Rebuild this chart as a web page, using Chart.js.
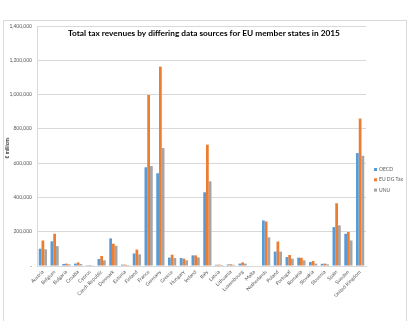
<!DOCTYPE html>
<html>
<head>
<meta charset="utf-8">
<script src="https://cdn.jsdelivr.net/npm/chart.js@4/dist/chart.umd.min.js"></script>
<style>
  html, body { margin: 0; padding: 0; background: #fff; }
  #wrap { width: 410px; height: 321px; position: relative; }
</style>
</head>
<body>
<div id="wrap"><canvas id="taxChart" width="410" height="321"></canvas></div>
<script>
const countries = ['Austria', 'Belgium', 'Bulgaria', 'Croatia', 'Cyprus', 'Czech Republic', 'Denmark', 'Estonia',
    'Finland', 'France', 'Germany', 'Greece', 'Hungary', 'Ireland', 'Italy', 'Latvia', 'Lithuania', 'Luxembourg',
    'Malta', 'Netherlands', 'Poland', 'Portugal', 'Romania', 'Slovakia', 'Slovenia', 'Spain', 'Sweden', 'United Kingdom'];

// € millions
const oecd = [101000, 144000, 12000, 14000, 5000, 41000, 161000, 8000,
    73000, 576000, 541000, 49000, 47000, 62000, 430000, 7000, 9000, 14000,
    3000, 266000, 84000, 52000, 49000, 23000, 13000, 227000, 188000, 659000];
const euDgTax = [149000, 188000, 14000, 21000, 6000, 58000, 130000, 8000,
    96000, 998000, 1163000, 66000, 43000, 62000, 708000, 8000, 10000, 21000,
    3000, 260000, 143000, 64000, 48000, 29000, 14000, 366000, 198000, 860000];
const unu = [97000, 116000, 10000, 12000, 4000, 33000, 118000, 6000,
    68000, 583000, 688000, 47000, 33000, 50000, 494000, 6000, 7000, 14000,
    3000, 167000, 84000, 43000, 33000, 14000, 10000, 237000, 149000, 643000];

const seriesNames = ['OECD', 'EU DG Tax', 'UNU'];
const seriesColors = ['#5B9BD5', '#ED7D31', '#A5A5A5'];
const yTicks = [0, 200000, 400000, 600000, 800000, 1000000, 1200000, 1400000];

const chartTitle = 'Total tax revenues by differing data sources for EU member states in 2015';
const fontFamily = 'Lato, "Liberation Sans", Arial, sans-serif';

// frame, title and legend drawn on top of the canvas
const decorPlugin = {
    id: 'decor',
    beforeDraw(chart) {
        const ctx = chart.ctx;
        ctx.save();
        ctx.strokeStyle = '#d9d9d9';
        ctx.lineWidth = 1;
        ctx.strokeRect(3.5, 20.5, 403, 310);
        ctx.restore();
    },
    afterDraw(chart) {
        const ctx = chart.ctx;
        ctx.save();
        ctx.fillStyle = '#000';
        ctx.font = 'bold 8.3px ' + fontFamily;
        ctx.textAlign = 'center';
        ctx.textBaseline = 'middle';
        ctx.fillText(chartTitle, 204, 33);

        // legend
        ctx.font = '5px ' + fontFamily;
        ctx.textAlign = 'left';
        chart.data.datasets.forEach((ds, i) => {
            const y = 169.5 + i * 10.3;
            ctx.fillStyle = ds.backgroundColor;
            ctx.fillRect(374, y - 1.5, 3, 3);
            ctx.fillStyle = '#595959';
            ctx.fillText(ds.label, 379, y);
        });

        // axis title
        ctx.translate(7, 148);
        ctx.rotate(-Math.PI / 2);
        ctx.textAlign = 'center';
        ctx.fillStyle = '#000';
        ctx.font = '5px ' + fontFamily;
        ctx.fillText('€ millions', 0, 0);
        ctx.restore();
    }
};

new Chart(document.getElementById('taxChart'), {
    type: 'bar',
    data: {
        labels: countries,
        datasets: [oecd, euDgTax, unu].map((vals, i) => ({
            label: seriesNames[i],
            data: vals,
            backgroundColor: seriesColors[i],
            borderWidth: 0,
            categoryPercentage: 0.7,
            barPercentage: 1.0
        }))
    },
    options: {
        responsive: false,
        animation: false,
        layout: { padding: { top: 26, left: 0, right: 44, bottom: 0 } },
        plugins: {
            legend: { display: false },
            title: { display: false },
            tooltip: { enabled: false }
        },
        scales: {
            x: {
                grid: { display: false, drawTicks: false },
                border: { color: '#d9d9d9' },
                ticks: {
                    color: '#595959',
                    font: { size: 5, family: fontFamily },
                    minRotation: 45, maxRotation: 45,
                    autoSkip: false,
                    padding: 3
                },
                afterFit: s => { s.height = 55; }
            },
            y: {
                min: 0, max: 1400000,
                afterBuildTicks: s => { s.ticks = yTicks.map(v => ({ value: v })); },
                grid: { color: '#d9d9d9', drawTicks: false },
                border: { color: '#d9d9d9' },
                ticks: {
                    color: '#595959',
                    font: { size: 5, family: fontFamily },
                    padding: 5,
                    callback: v => v === 0 ? '-' : v.toLocaleString('en-US')
                },
                afterFit: s => { s.width = 37; }
            }
        }
    },
    plugins: [decorPlugin]
});
</script>
</body>
</html>
